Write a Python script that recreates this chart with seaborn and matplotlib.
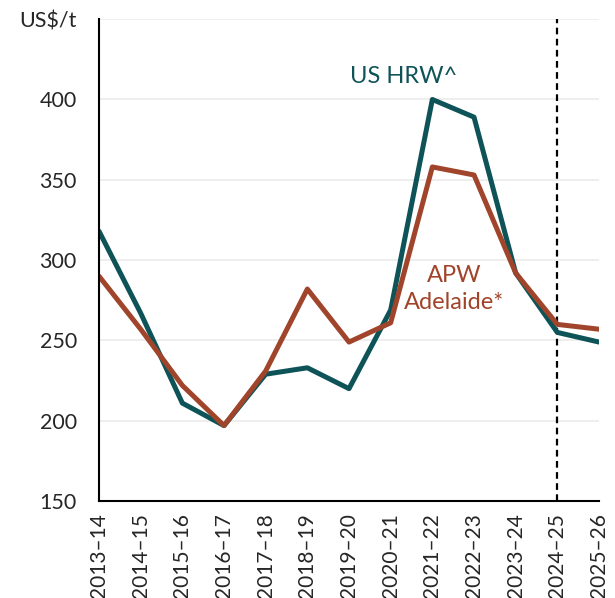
import pandas as pd
import matplotlib.pyplot as plt
import seaborn as sns

# Wheat prices, US$/t
seasons = ["2013–14", "2014–15", "2015–16", "2016–17", "2017–18", "2018–19", "2019–20",
           "2020–21", "2021–22", "2022–23", "2023–24", "2024–25", "2025–26"]
us_hrw = [318, 267, 211, 197, 229, 233, 220, 269, 400, 389, 292, 255, 249]
apw_adelaide = [290, 257, 222, 197, 231, 282, 249, 261, 358, 353, 292, 260, 257]

series_names = ["US HRW^", "APW Adelaide*"]
colors = {"US HRW^": "#0E5357", "APW Adelaide*": "#A0452B"}

df = pd.DataFrame({"Season": seasons * 2,
                   "idx": list(range(len(seasons))) * 2,
                   "Price": us_hrw + apw_adelaide,
                   "Series": [series_names[0]] * len(seasons) + [series_names[1]] * len(seasons)})

sns.set_style("white")
plt.rcParams["font.family"] = ["Lato", "DejaVu Sans"]

fig, ax = plt.subplots(figsize=(6.15, 5.98), dpi=100)
fig.subplots_adjust(left=0.161, right=0.974, bottom=0.162, top=0.968)

sns.lineplot(data=df, x="idx", y="Price", hue="Series", palette=colors,
             linewidth=3.6, legend=False, ax=ax)

# gridlines
ax.set_ylim(150, 450)
ax.set_yticks([150, 200, 250, 300, 350, 400, 450])
ax.set_yticklabels(["150", "200", "250", "300", "350", "400", "US$/t"], fontsize=15.5)
ax.yaxis.grid(True, color="#EBEBEB", linewidth=1.2)
ax.set_axisbelow(True)

ax.set_xlim(0, len(seasons) - 1)
ax.set_xticks(range(len(seasons)))
ax.set_xticklabels(seasons, rotation=90, fontsize=15)
ax.set_xlabel("")
ax.set_ylabel("")

ax.tick_params(direction="in", length=5, width=1.5, color="black")
ax.tick_params(axis="y", pad=16)
ax.tick_params(axis="x", pad=9)

for s in ["top", "right"]:
    ax.spines[s].set_visible(False)
for s in ["left", "bottom"]:
    ax.spines[s].set_color("black")
    ax.spines[s].set_linewidth(1.5)

# forecast divider
ax.axvline(11, color="black", linestyle=(0, (3, 2)), linewidth=1.6, zorder=1)

ax.text(7.32, 414, "US HRW^", color=colors["US HRW^"], fontsize=17, ha="center", va="center")
ax.text(8.52, 282, "APW\nAdelaide*", color=colors["APW Adelaide*"], fontsize=17,
        ha="center", va="center", linespacing=1.3)

plt.savefig("out.png", dpi=100)
